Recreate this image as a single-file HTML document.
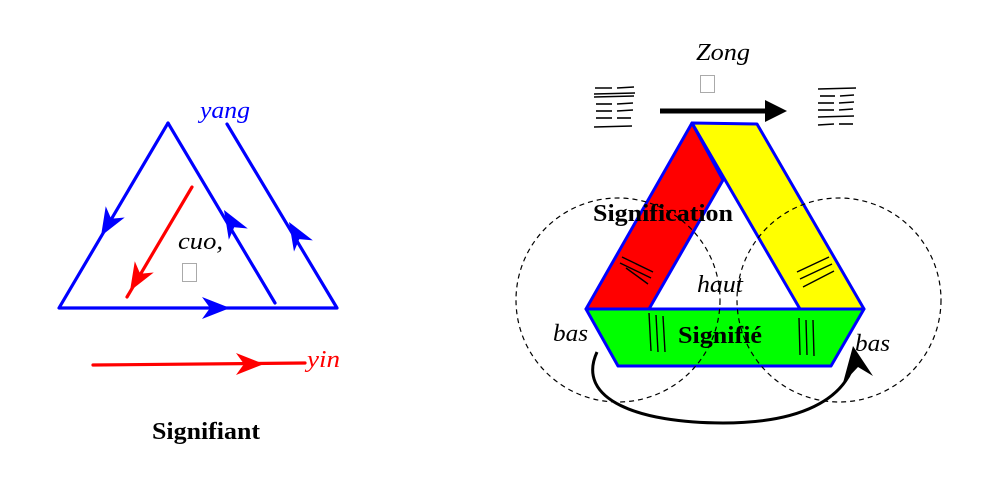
<!DOCTYPE html>
<html><head><meta charset="utf-8"><style>
html,body{margin:0;padding:0;background:#fff;}
svg{display:block;}
text{font-family:"Liberation Serif",serif;}
</style></head><body>
<svg width="995" height="486" viewBox="0 0 995 486" xmlns="http://www.w3.org/2000/svg">
<defs>
<path id="ah" d="M0,0 L-28,-11 L-20,0 L-28,11 Z"/>
</defs>
<!-- LEFT FIGURE -->
<g stroke="#0000ff" stroke-width="3.2" fill="none" stroke-linecap="round" stroke-linejoin="round">
<polyline points="168,123 59,308 337,308 227,124"/>
<line x1="168" y1="123" x2="275" y2="303"/>
</g>
<g fill="#0000ff">
<use href="#ah" transform="translate(101,236) rotate(120.5)"/>
<use href="#ah" transform="translate(224,210) rotate(-120.7)"/>
<use href="#ah" transform="translate(289,222) rotate(-121)"/>
<use href="#ah" transform="translate(230,308) rotate(0)"/>
</g>
<g stroke="#ff0000" stroke-width="3.2" fill="none" stroke-linecap="round">
<line x1="192" y1="187" x2="127" y2="297"/>
<line x1="93" y1="365" x2="305" y2="363"/>
</g>
<g fill="#ff0000">
<use href="#ah" transform="translate(130,291) rotate(120.6)"/>
<use href="#ah" transform="translate(264,364) rotate(0)"/>
</g>
<text x="200" y="118" fill="#0000ff" font-size="24" font-style="italic" textLength="50" lengthAdjust="spacingAndGlyphs">yang</text>
<text x="307" y="367" fill="#ff0000" font-size="24" font-style="italic" textLength="33" lengthAdjust="spacingAndGlyphs">yin</text>
<text x="178" y="249" fill="#000" font-size="24" font-style="italic" textLength="45" lengthAdjust="spacingAndGlyphs">cuo,</text>
<rect x="182.5" y="263.5" width="14" height="18" fill="none" stroke="#aaa" stroke-width="1"/>
<text x="152" y="439" fill="#000" font-size="24" font-weight="bold" textLength="108" lengthAdjust="spacingAndGlyphs">Signifiant</text>

<!-- RIGHT FIGURE -->
<g stroke="#0000ff" stroke-width="3" stroke-linejoin="round">
<polygon points="586,309 864,309 831,366 618,366" fill="#00ff00"/>
<polygon points="692,123 723,180 649,309 586,309" fill="#ff0000"/>
<polygon points="692,123 757,124 864,309 800,309" fill="#ffff00"/>
</g>
<g stroke="#000" stroke-width="1.4" fill="none">
<line x1="622" y1="257" x2="653" y2="272"/>
<line x1="620" y1="263" x2="651" y2="278"/>
<line x1="626" y1="268" x2="648" y2="284"/>
<line x1="797" y1="272" x2="829" y2="257"/>
<line x1="800" y1="279" x2="832" y2="264"/>
<line x1="803" y1="287" x2="834" y2="271"/>
<line x1="649" y1="313" x2="651" y2="351"/>
<line x1="656" y1="315" x2="658" y2="352"/>
<line x1="663" y1="316" x2="665" y2="352"/>
<line x1="799" y1="318" x2="800" y2="355"/>
<line x1="806" y1="320" x2="807" y2="355"/>
<line x1="813" y1="320" x2="814" y2="356"/>
</g>
<g stroke="#000" stroke-width="1.2" fill="none" stroke-dasharray="5,4">
<circle cx="618" cy="300" r="102"/>
<circle cx="839" cy="300" r="102"/>
</g>
<!-- trigrams -->
<g stroke="#000" stroke-width="1.6">
<line x1="595" y1="88" x2="612" y2="88"/><line x1="617" y1="88" x2="634" y2="87"/>
<line x1="594" y1="94" x2="635" y2="93"/>
<line x1="594" y1="97" x2="634" y2="96"/>
<line x1="596" y1="104" x2="612" y2="104"/><line x1="617" y1="104" x2="633" y2="103"/>
<line x1="596" y1="111" x2="612" y2="111"/><line x1="617" y1="111" x2="633" y2="110"/>
<line x1="596" y1="118" x2="612" y2="118"/><line x1="617" y1="118" x2="631" y2="118"/>
<line x1="594" y1="127" x2="632" y2="126"/>
<line x1="818" y1="89" x2="856" y2="88"/>
<line x1="820" y1="96" x2="835" y2="96"/><line x1="840" y1="96" x2="854" y2="95"/>
<line x1="818" y1="103" x2="834" y2="103"/><line x1="839" y1="103" x2="854" y2="102"/>
<line x1="818" y1="110" x2="834" y2="110"/><line x1="839" y1="110" x2="853" y2="109"/>
<line x1="818" y1="117" x2="854" y2="116"/>
<line x1="818" y1="125" x2="834" y2="124"/><line x1="839" y1="124" x2="853" y2="124"/>
</g>
<line x1="660" y1="111" x2="768" y2="111" stroke="#000" stroke-width="5"/>
<polygon points="765,100 787,111 765,122" fill="#000"/>
<path d="M597,352 C575,400 640,423 723,423 C800,423 845,400 855,360" stroke="#000" stroke-width="3" fill="none"/>
<polygon points="853,346 873,376 858,367 843,383" fill="#000"/>
<text x="696" y="60" font-size="24" font-style="italic" fill="#000" textLength="54" lengthAdjust="spacingAndGlyphs">Zong</text>
<rect x="700.5" y="75.5" width="14" height="17" fill="none" stroke="#aaa" stroke-width="1"/>
<text x="593" y="221" font-size="24" font-weight="bold" fill="#000" textLength="140" lengthAdjust="spacingAndGlyphs">Signification</text>
<text x="697" y="292" font-size="24" font-style="italic" fill="#000" textLength="46" lengthAdjust="spacingAndGlyphs">haut</text>
<text x="678" y="343" font-size="24" font-weight="bold" fill="#000" textLength="84" lengthAdjust="spacingAndGlyphs">Signifié</text>
<text x="553" y="341" font-size="24" font-style="italic" fill="#000" textLength="35" lengthAdjust="spacingAndGlyphs">bas</text>
<text x="855" y="351" font-size="24" font-style="italic" fill="#000" textLength="35" lengthAdjust="spacingAndGlyphs">bas</text>
</svg>
</body></html>
